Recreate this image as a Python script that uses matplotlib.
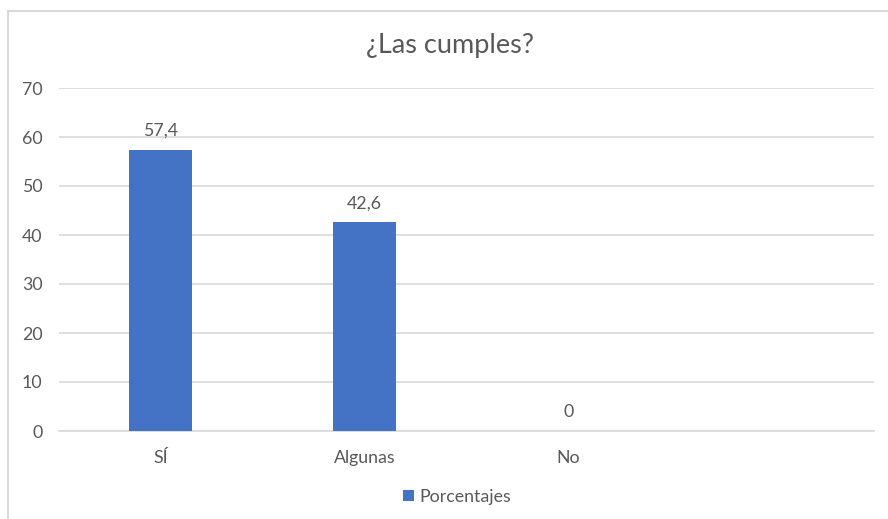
import numpy as np
import matplotlib.pyplot as plt
from matplotlib.patches import Rectangle

# Chart data
categories = ['SÍ', 'Algunas', 'No', '']
porcentajes = [57.4, 42.6, 0, np.nan]
value_labels = ['57,4', '42,6', '0', '']
y_ticks = [0, 10, 20, 30, 40, 50, 60, 70]

plt.rcParams['font.family'] = ['Lato', 'DejaVu Sans']
text_color = '#595959'
grid_color = '#D9D9D9'
bar_color = '#4472C4'

fig = plt.figure(figsize=(8.88, 5.19), dpi=100)
ax = fig.add_axes([59 / 888, 1 - 431 / 519, 815 / 888, 343 / 519])

# Light frame around the chart area
fig.patches.append(Rectangle((8 / 888, -0.1), 1.2, 1 - 11 / 519 + 0.1,
                             transform=fig.transFigure, fill=False,
                             edgecolor='#D9D9D9', linewidth=1.5))

x = np.arange(len(categories))
bars = ax.bar(x, porcentajes, width=0.31, color=bar_color, label='Porcentajes', zorder=3)

for xi, val, lab in zip(x, porcentajes, value_labels):
    if lab:
        ax.annotate(lab, (xi, val), xytext=(0, 8), textcoords='offset points',
                    ha='center', va='bottom', fontsize=12.8, color=text_color)

ax.set_xlim(-0.5, len(categories) - 0.5)
ax.set_ylim(0, 70)
ax.set_yticks(y_ticks)
ax.set_xticks(x)
ax.set_xticklabels(categories)
ax.tick_params(axis='both', length=0, labelsize=12.8, labelcolor=text_color)
ax.tick_params(axis='x', pad=14)
ax.tick_params(axis='y', pad=12)
ax.yaxis.grid(True, color=grid_color, linewidth=1.2, zorder=0)
for side in ['top', 'right', 'left']:
    ax.spines[side].set_visible(False)
ax.spines['bottom'].set_color(grid_color)
ax.spines['bottom'].set_linewidth(1.2)

fig.text(450 / 888, 1 - 45 / 519, '¿Las cumples?', ha='center', va='center',
         fontsize=19.5, color=text_color)

fig.legend(handles=[bars], labels=['Porcentajes'], loc='center',
           bbox_to_anchor=(457 / 888, 1 - 497 / 519), frameon=False,
           fontsize=12.8, labelcolor=text_color, handlelength=0.6,
           handleheight=0.6, handletextpad=0.3)

fig.savefig('out.png', dpi=100)
